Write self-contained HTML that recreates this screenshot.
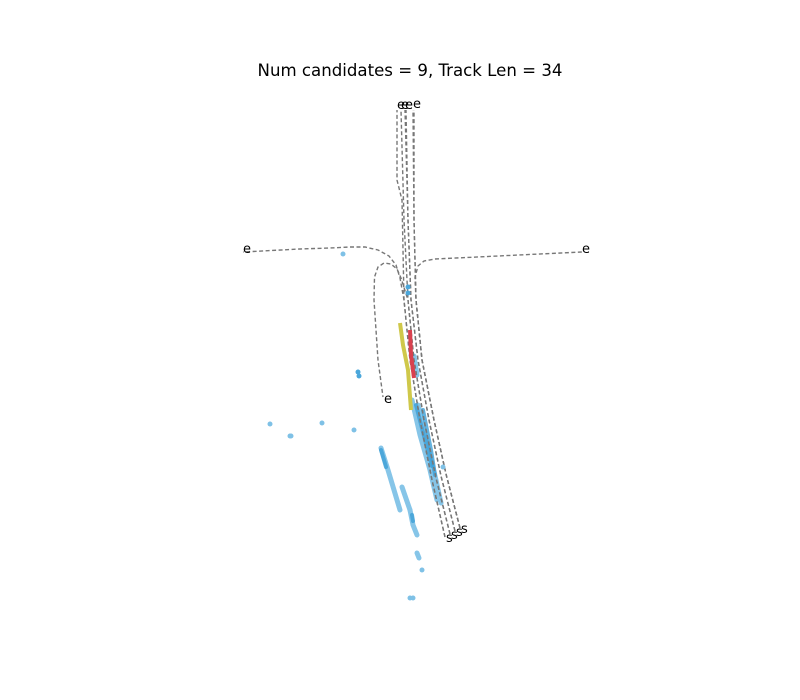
<!DOCTYPE html>
<html><head><meta charset="utf-8"><style>
html,body{margin:0;padding:0;background:#fff;}
svg{display:block;font-family:"DejaVu Sans","Liberation Sans",sans-serif;}
</style></head><body>
<svg id="chart" width="800" height="700" viewBox="0 0 800 700" xmlns="http://www.w3.org/2000/svg">
<rect width="800" height="700" fill="#fff"/>
<text x="410" y="76" text-anchor="middle" font-size="16.6" fill="#000">Num candidates = 9, Track Len = 34</text>
<g id="streaks"></g>
<g id="trajs"></g>
<g id="highlights"></g>
<g id="points"></g>
<g id="labels"></g>
</svg>
<script>
// data coordinates (metres); origin near track start
const trajectories = [
  [[9,-0.4],[6.4,11],[4,23],[2,35],[0.8,47],[0.4,67],[-0.6,71],[-0.6,85]],
  [[10,0.2],[7.2,11.4],[4.8,23],[2.8,35],[1.6,47],[0.8,63],[0.2,85]],
  [[11,0.8],[8.2,11.8],[5.8,23],[3.6,35],[2.2,47],[1.6,63],[1,85]],
  [[12,1.4],[9.2,12.2],[6.8,23],[4.4,35],[3.2,47],[2.8,63],[2.6,85]],
  [[9,-0.4],[6.4,11],[4,23],[2,35],[0.8,47],[0,51.4],[-0.8,54],[-2.2,55.8],[-4.4,57],[-7,57.6],[-10,57.6],[-14,57.4],[-20,57.2],[-31.4,56.6]],
  [[12,1.4],[9.2,12.2],[6.8,23],[4.4,35],[3.2,47],[3,51.6],[3.6,53.8],[4.8,54.8],[7,55.2],[36.4,56.6]],
  [[10,0.2],[7.2,11.4],[4.8,23],[2.8,35],[1.6,47],[0.2,51.4],[-0.6,53.2],[-1.8,54.2],[-3.2,54.4],[-4.4,53.6],[-5.1,51.6],[-5.2,47],[-4.4,35],[-3.4,27.6]],
  [[11,0.8],[8.2,11.8],[5.8,23],[3.6,35],[2.2,47],[1.6,63],[1.2,85]],
  [[12,1.4],[9.2,12.2],[6.8,23],[4.4,35],[3.2,47],[2.8,63],[2.8,85]]
];
const endLabels = [[-0.6,86],[0.2,86],[1,86],[2.6,86.2],[-31.4,57.2],[36.4,57.2],[-3.2,27.2]];
const startLabels = [[9.2,-0.6],[10.2,0],[11.2,0.6],[12.2,1.2]];
const yellowSeg = [[0,42.4],[0.6,38],[1.6,33],[2.2,25]];
const redSeg = [[2,41],[2.2,36],[2.8,31.4]];
const lightStreaks = [
  [[2.4,27],[4,20],[6,13],[7.4,7]],
  [[3.6,26],[5.2,19],[7.2,11],[8.2,6.4]],
  [[-3.8,17.4],[-2.4,13],[0,5]],
  [[0.4,9.6],[2,5]],
  [[2,5],[2.6,2],[3.4,0]],
  [[3.4,-3.6],[3.8,-4.6]],
  [[2.8,35.8],[3.4,32]]
];
const darkStreaks = [
  [[3.2,26],[5,19],[6.4,13.8]],
  [[4.6,25],[6.2,17],[7,12]],
  [[-3.8,17],[-2.8,13.6]],
  [[2.4,4],[2.6,2.8]]
];
const pointsX = [-11.4,1.6,1.6,-8.4,-8.2,-26,-22,-21.8,-15.6,-9.2,8.6,4.4,2,2.6];
const pointsY = [56.2,49.6,48.4,32.6,31.8,22.2,19.8,19.8,22.4,21,13.6,-7,-12.6,-12.6];

const sx = d => 400 + d*5;
const sy = d => 535 - d*5;
const NS = "http://www.w3.org/2000/svg";
const pts = a => a.map(p => sx(p[0]).toFixed(1)+","+sy(p[1]).toFixed(1)).join(" ");

const gs = document.getElementById('streaks');
lightStreaks.forEach(s => {
  const el = document.createElementNS(NS,'polyline');
  
  
  el.setAttribute('points', pts(s));
  el.setAttribute('fill','none'); el.setAttribute('stroke','#86c5e8');
  el.setAttribute('stroke-width','5'); el.setAttribute('stroke-linecap','round'); el.setAttribute('stroke-linejoin','round');
  gs.appendChild(el);
});
darkStreaks.forEach(s => {
  const el = document.createElementNS(NS,'polyline');
  
  
  el.setAttribute('points', pts(s));
  el.setAttribute('fill','none'); el.setAttribute('stroke','#3d9fd6'); el.setAttribute('stroke-opacity','0.8');
  el.setAttribute('stroke-width','4'); el.setAttribute('stroke-linecap','round');
  gs.appendChild(el);
});
const gt = document.getElementById('trajs');
trajectories.forEach(t => {
  const el = document.createElementNS(NS,'polyline');
  
  
  el.setAttribute('points', pts(t));
  el.setAttribute('fill','none'); el.setAttribute('stroke','#777');
  el.setAttribute('stroke-width','1.4'); el.setAttribute('stroke-dasharray','4,2.5');
  gt.appendChild(el);
});
const gh = document.getElementById('highlights');
[[yellowSeg,'#cfc84a','yellow-segment'],[redSeg,'#d9414f','red-segment']].forEach(([s,c,n]) => {
  const el = document.createElementNS(NS,'polyline');
  
  
  el.setAttribute('points', pts(s));
  el.setAttribute('fill','none'); el.setAttribute('stroke',c);
  el.setAttribute('stroke-width','4');
  gh.appendChild(el);
});
const gp = document.getElementById('points');
pointsX.forEach((x,i) => {
  const el = document.createElementNS(NS,'circle');
  
  
  el.setAttribute('cx', sx(x)); el.setAttribute('cy', sy(pointsY[i]));
  el.setAttribute('r','2.5'); el.setAttribute('fill', i<5 && i!==0 ? '#4ba7db' : '#7fc1e6');
  gp.appendChild(el);
});
const gl = document.getElementById('labels');
endLabels.forEach(p => {
  const el = document.createElementNS(NS,'text');
  
  
  el.setAttribute('x', sx(p[0])); el.setAttribute('y', sy(p[1])+4);
  el.setAttribute('font-size','13'); el.textContent = 'e';
  gl.appendChild(el);
});
startLabels.forEach(p => {
  const el = document.createElementNS(NS,'text');
  
  
  el.setAttribute('x', sx(p[0])); el.setAttribute('y', sy(p[1])+4);
  el.setAttribute('font-size','13'); el.textContent = 's';
  gl.appendChild(el);
});
</script>
</body></html>
